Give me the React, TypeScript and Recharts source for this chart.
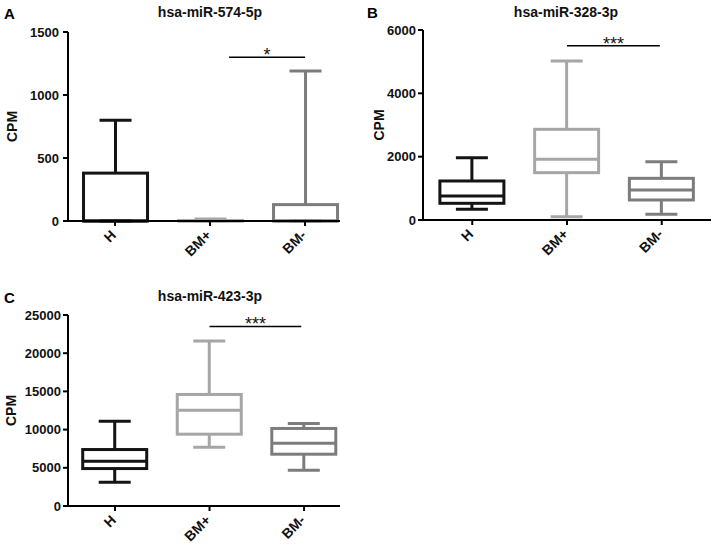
import React from "react";
import { Bar, ComposedChart, ReferenceLine, XAxis, YAxis } from "recharts";

const FONT = '"Liberation Sans", Arial, Helvetica, sans-serif';

const groups = ["H", "BM+", "BM-"];
const groupColors = ["#141414", "#a6a6a6", "#7c7c7c"];

// A: hsa-miR-574-5p
const aMin = [0, 0, 0];
const aQ1 = [0, 0, 0];
const aMedian = [0, 0, 0];
const aQ3 = [380, 3, 130];
const aMax = [800, 15, 1190];
const aTicks = [0, 500, 1000, 1500];

// B: hsa-miR-328-3p
const bMin = [340, 105, 180];
const bQ1 = [527, 1495, 632];
const bMedian = [758, 1917, 947];
const bQ3 = [1232, 2864, 1316];
const bMax = [1967, 5021, 1842];
const bTicks = [0, 2000, 4000, 6000];

// C: hsa-miR-423-3p
const cMin = [3100, 7700, 4680];
const cQ1 = [4900, 9400, 6780];
const cMedian = [5860, 12545, 8220];
const cQ3 = [7390, 14600, 10150];
const cMax = [11100, 21590, 10800];
const cTicks = [0, 5000, 10000, 15000, 20000, 25000];

const makeRows = (
  mins: number[],
  q1s: number[],
  medians: number[],
  q3s: number[],
  maxs: number[]
) =>
  groups.map((g, i) => ({
    group: g,
    pos: i,
    min: mins[i],
    q1: q1s[i],
    median: medians[i],
    q3: q3s[i],
    max: maxs[i],
    color: groupColors[i],
  }));

// box + whiskers, positioned inside the [min, max] range bar
const BoxShape = (props: any) => {
  const { x, y, width, height, payload } = props;
  if (x == null || y == null) return null;
  const top = Math.min(y, y + height);
  const bottom = Math.max(y, y + height);
  const span = payload.max - payload.min || 1;
  const toY = (v: number) =>
    bottom - ((v - payload.min) / span) * (bottom - top);
  const cx = x + width / 2;
  const cap = width / 4;
  const yMax = toY(payload.max);
  const yMin = toY(payload.min);
  const yQ1 = toY(payload.q1);
  const yQ3 = toY(payload.q3);
  const yMed = toY(payload.median);
  return (
    <g stroke={payload.color} strokeWidth={3} fill="none">
      <line x1={cx} x2={cx} y1={yQ3} y2={yMax} />
      <line x1={cx - cap} x2={cx + cap} y1={yMax} y2={yMax} />
      <line x1={cx} x2={cx} y1={yQ1} y2={yMin} />
      <line x1={cx - cap} x2={cx + cap} y1={yMin} y2={yMin} />
      <rect x={x} y={yQ3} width={width} height={Math.max(yQ1 - yQ3, 0)} />
      <line x1={x} x2={x + width} y1={yMed} y2={yMed} />
    </g>
  );
};

const GroupTick = (props: any) => {
  const { x, y, payload } = props;
  return (
    <text
      x={0}
      y={0}
      transform={`translate(${x + 2},${y + 8}) rotate(-45)`}
      textAnchor="end"
      fill="#111"
      fontSize={14}
      fontWeight={700}
      fontFamily={FONT}
    >
      {groups[payload.value]}
    </text>
  );
};

type PanelProps = {
  rows: ReturnType<typeof makeRows>;
  yTicks: number[];
  width: number;
  height: number;
  margin: { top: number; right: number; bottom: number; left: number };
  xDomain: [number, number];
  tickMargin: number;
  labelOffset: number;
  sig: { from: number; to: number; y: number; stars: string };
};

const Panel = ({
  rows,
  yTicks,
  width,
  height,
  margin,
  xDomain,
  tickMargin,
  labelOffset,
  sig,
}: PanelProps) => (
  <ComposedChart width={width} height={height} data={rows} margin={margin}>
    <XAxis
      dataKey="pos"
      type="number"
      domain={xDomain}
      allowDataOverflow
      ticks={[0, 1, 2]}
      interval={0}
      height={30}
      tickSize={5}
      axisLine={{ stroke: "#000", strokeWidth: 2 }}
      tickLine={{ stroke: "#000", strokeWidth: 2 }}
      tick={(p: any) => <GroupTick {...p} />}
    />
    <YAxis
      domain={[0, yTicks[yTicks.length - 1]]}
      ticks={yTicks}
      width={68}
      interval={0}
      tickSize={5}
      tickMargin={tickMargin}
      axisLine={{ stroke: "#000", strokeWidth: 2 }}
      tickLine={{ stroke: "#000", strokeWidth: 2 }}
      tick={{ fill: "#111", fontSize: 13, fontWeight: 700, fontFamily: FONT }}
      label={{
        value: "CPM",
        angle: -90,
        position: "insideLeft",
        offset: labelOffset,
        fill: "#111",
        fontSize: 14,
        fontWeight: 700,
        fontFamily: FONT,
        style: { textAnchor: "middle" },
      }}
    />
    <Bar
      dataKey={(d: any) => [d.min, d.max]}
      barSize={64}
      shape={(p: any) => <BoxShape {...p} />}
      isAnimationActive={false}
    />
    <ReferenceLine
      segment={[
        { x: sig.from, y: sig.y },
        { x: sig.to, y: sig.y },
      ]}
      stroke="#000"
      strokeWidth={1.5}
      label={{
        value: sig.stars,
        position: "top",
        offset: -4,
        fill: "#111",
        fontSize: 18,
        fontFamily: FONT,
      }}
    />
  </ComposedChart>
);

const titleStyle = (left: number, top: number): React.CSSProperties => ({
  position: "absolute",
  left,
  top,
  width: 200,
  textAlign: "center",
  fontFamily: FONT,
  fontWeight: 700,
  fontSize: 14,
  lineHeight: 1,
  color: "#111",
});

const letterStyle = (left: number, top: number): React.CSSProperties => ({
  position: "absolute",
  left,
  top,
  fontFamily: FONT,
  fontWeight: 700,
  fontSize: 15,
  lineHeight: 1,
  color: "#000",
});

export default function App() {
  return (
    <div style={{ position: "absolute", left: 0, top: 0, width: 713, height: 546, background: "#fff" }}>
      <div style={{ position: "absolute", left: 0, top: 0 }}>
        <Panel
          rows={makeRows(aMin, aQ1, aMedian, aQ3, aMax)}
          yTicks={aTicks}
          width={345}
          height={270}
          margin={{ top: 32, right: 5, bottom: 19, left: 0 }}
          xDomain={[-0.495, 2.368]}
          tickMargin={4}
          labelOffset={12}
          sig={{ from: 1.2, to: 2, y: 1300, stars: "*" }}
        />
      </div>
      <div style={{ position: "absolute", left: 355, top: 0 }}>
        <Panel
          rows={makeRows(bMin, bQ1, bMedian, bQ3, bMax)}
          yTicks={bTicks}
          width={358}
          height={270}
          margin={{ top: 30, right: 2, bottom: 20, left: 0 }}
          xDomain={[-0.52, 2.52]}
          tickMargin={2}
          labelOffset={24}
          sig={{ from: 1, to: 1.98, y: 5500, stars: "***" }}
        />
      </div>
      <div style={{ position: "absolute", left: 0, top: 270 }}>
        <Panel
          rows={makeRows(cMin, cQ1, cMedian, cQ3, cMax)}
          yTicks={cTicks}
          width={345}
          height={276}
          margin={{ top: 45, right: 5, bottom: 10, left: 0 }}
          xDomain={[-0.497, 2.38]}
          tickMargin={2}
          labelOffset={11}
          sig={{ from: 1, to: 1.97, y: 23500, stars: "***" }}
        />
      </div>
      <div style={letterStyle(4, 6)}>A</div>
      <div style={letterStyle(367, 5)}>B</div>
      <div style={letterStyle(4, 290)}>C</div>
      <div style={titleStyle(110, 5)}>hsa-miR-574-5p</div>
      <div style={titleStyle(466, 5)}>hsa-miR-328-3p</div>
      <div style={titleStyle(110, 289)}>hsa-miR-423-3p</div>
    </div>
  );
}
